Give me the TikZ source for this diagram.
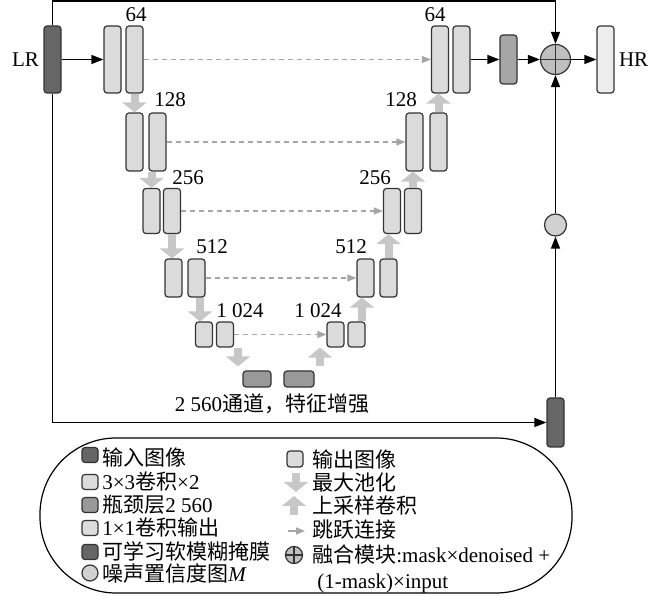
\documentclass[tikz,border=0pt]{standalone}
\usepackage{fontspec}
\setmainfont{Liberation Serif}
\newfontfamily\cjk{Noto Sans CJK SC}
\usetikzlibrary{positioning,arrows.meta}

\begin{document}
\begin{tikzpicture}[x=0.5pt,y=-0.5pt,font=\fontsize{10.5}{12}\selectfont,
  conv/.style={draw=black!80,line width=0.6pt,rounded corners=1.5pt,fill=black!14,inner sep=0pt,minimum width=8.5pt},
  dark/.style={conv,fill=black!60},
  mid/.style={conv,fill=black!40},
  outbox/.style={conv,fill=black!7},
  link/.style={line width=0.6pt,-{Triangle[length=6pt,width=4.5pt]}},
  skip/.style={draw=black!35,line width=0.6pt,dash pattern=on 2.5pt off 2pt,-{Triangle[length=4.5pt,width=3.5pt]}},
  pool/.style={draw=black!22,line width=4pt,-{Triangle[length=5pt,width=12pt]}},
  fuse/.style={circle,draw=black!80,line width=0.6pt,fill=black!25,inner sep=0pt,minimum size=#1,
    path picture={\draw[line width=0.6pt] (path picture bounding box.north) -- (path picture bounding box.south)
      (path picture bounding box.west) -- (path picture bounding box.east);}},
  noise/.style={circle,draw=black!80,line width=0.6pt,fill=black!18,inner sep=0pt,minimum size=#1},
  lgtxt/.style={anchor=west,inner sep=0pt}]
  \useasboundingbox (0,0) rectangle (648,597);

  % input / output
  \node[dark,minimum height=33.5pt] (lr) at (52.5,59.5) {};
  \node[left=0pt of lr,inner sep=2pt] (lrtxt) {LR};
  \node[outbox,minimum height=33.5pt] (hr) at (605.5,59.5) {};
  \node[right=0pt of hr,inner sep=2pt] (hrtxt) {HR};

  % encoder
  \node[conv,minimum height=33.5pt] (e1a) at (112.5,59.5) {};
  \node[conv,minimum height=33.5pt] (e1b) at (134.5,59.5) {};
  \node[conv,minimum height=29pt] (e2a) at (134.5,142) {};
  \node[conv,minimum height=29pt] (e2b) at (157.5,142) {};
  \node[conv,minimum height=22.5pt] (e3a) at (151.5,211) {};
  \node[conv,minimum height=22.5pt] (e3b) at (172,211) {};
  \node[conv,minimum height=19pt] (e4a) at (173.5,278) {};
  \node[conv,minimum height=19pt] (e4b) at (196.5,278) {};
  \node[conv,minimum height=12.5pt] (e5a) at (204,334.5) {};
  \node[conv,minimum height=12.5pt] (e5b) at (225,334.5) {};

  % bottleneck
  \node[mid,minimum width=14pt,minimum height=8pt] (b1) at (257,379) {};
  \node[mid,minimum width=15pt,minimum height=8pt] (b2) at (299,379) {};
  \node (bntxt) at (272,404) {2 560{\cjk 通道，特征增强}};

  % decoder
  \node[conv,minimum height=12.5pt] (d5a) at (335.5,334.5) {};
  \node[conv,minimum height=12.5pt] (d5b) at (356.5,334.5) {};
  \node[conv,minimum height=19pt] (d4a) at (365.5,278) {};
  \node[conv,minimum height=19pt] (d4b) at (388.5,278) {};
  \node[conv,minimum height=22.5pt] (d3a) at (392,211) {};
  \node[conv,minimum height=22.5pt] (d3b) at (413,211) {};
  \node[conv,minimum height=29pt] (d2a) at (414.5,142) {};
  \node[conv,minimum height=29pt] (d2b) at (438.5,142) {};
  \node[conv,minimum height=33.5pt] (d1a) at (440,59.5) {};
  \node[conv,minimum height=33.5pt] (d1b) at (461.5,59.5) {};
  \node[mid,fill=black!35,minimum height=24.5pt] (o1) at (508.5,59.5) {};

  % channel labels
  \node (l64e) at (136,15) {64};
  \node (l128e) at (170,100) {128};
  \node (l256e) at (188,178) {256};
  \node (l512e) at (212,247) {512};
  \node (l1024e) at (240,311) {1 024};
  \node (l1024d) at (318,311) {1 024};
  \node (l512d) at (351,247) {512};
  \node (l256d) at (375,178) {256};
  \node (l128d) at (401,100) {128};
  \node (l64d) at (435,15) {64};

  % fusion branch
  \node[fuse=15pt] (fusion) at (555.5,59.5) {};
  \node[noise=11pt] (noise) at (555.5,225) {};
  \node[dark,minimum height=24.5pt] (mask) at (555.5,422.5) {};
  \coordinate (ctop) at (300,1);

  \draw[link] (lr.east) -- (e1a.west);
  \draw[link] (d1b.east) -- (o1.west);
  \draw[link] (o1.east) -- (fusion.west);
  \draw[link] (fusion.east) -- (hr.west);
  \draw[link] (lr.north) |- (ctop) -| (fusion.north);
  \draw[link] (lr.south) |- (mask.west);
  \draw[link] (mask.north) -- (noise.south);
  \draw[link] (noise.north) -- (fusion.south);

  % skip connections
  \draw[skip] (e1b.east) -- (d1a.west);
  \draw[skip] (e2b.east) -- (d2a.west);
  \draw[skip] (e3b.east) -- (d3a.west);
  \draw[skip] (e4b.east) -- (d4a.west);
  \draw[skip] (e5b.east) -- (d5a.west);

  % pooling / up-sampling
  \draw[pool] (e1b.south) -- (e2a.north);
  \draw[pool] (e2b.south -| e3a) -- (e3a.north);
  \draw[pool] (e3b.south) -- (e3b.south |- e4a.north);
  \draw[pool] ([xshift=1.75pt]e4b.south) -- ([xshift=-2pt]e5a.north);
  \draw[pool] ([xshift=6.5pt]e5b.south) -- ([xshift=-9.5pt,yshift=2pt]b1.north);
  \draw[pool] ([xshift=10.5pt,yshift=2pt]b2.north) -- ([xshift=-7.75pt]d5a.south);
  \draw[pool] ([xshift=2.75pt]d5b.north) -- ([xshift=-1.75pt]d4a.south);
  \draw[pool] (d4b.north) -- (d4b.north |- d3a.south);
  \draw[pool] (d3b.north) -- (d3b.north |- d2a.south);
  \draw[pool] (d2b.north) -- (d2b.north |- d1a.south);

  % legend
  \node[draw,line width=0.6pt,rounded corners=38pt,minimum width=266pt,minimum height=77.5pt] (legend) at (306,515.5) {};
  \node[dark,minimum width=8pt,minimum height=7.5pt] (ki1) at (90,455) {};
  \node[lgtxt] (kt1) at (102,457) {\cjk 输入图像};
  \node[conv,minimum width=8pt,minimum height=7.5pt] (ki2) at (90,482) {};
  \node[lgtxt] (kt2) at (102,482) {3×3{\cjk 卷积}×2};
  \node[mid,minimum width=8pt,minimum height=7.5pt] (ki3) at (90,505) {};
  \node[lgtxt] (kt3) at (102,505) {{\cjk 瓶颈层}2 560};
  \node[conv,minimum width=8pt,minimum height=7.5pt] (ki4) at (90,528) {};
  \node[lgtxt] (kt4) at (102,528) {1×1{\cjk 卷积输出}};
  \node[dark,minimum width=8pt,minimum height=7.5pt] (ki5) at (90,552) {};
  \node[lgtxt] (kt5) at (102,552) {\cjk 可学习软模糊掩膜};
  \node[noise=8pt] (ki6) at (90,573) {};
  \node[lgtxt] (kt6) at (102,574) {{\cjk 噪声置信度图}\textit{M}};

  \node[conv,minimum width=8pt,minimum height=8pt] (kr1) at (295,459) {};
  \node[lgtxt] (kx1) at (312,459) {\cjk 输出图像};
  \coordinate (kr2a) at (296,473);
  \coordinate (kr2b) at (296,492);
  \draw[pool] (kr2a) -- (kr2b);
  \node[lgtxt] (kx2) at (312,483) {\cjk 最大池化};
  \coordinate (kr3a) at (294,515);
  \coordinate (kr3b) at (294,496);
  \draw[pool] (kr3a) -- (kr3b);
  \node[lgtxt] (kx3) at (312,506) {\cjk 上采样卷积};
  \coordinate (kr4a) at (288,531);
  \coordinate (kr4b) at (305,531);
  \draw[draw=black!35,line width=0.8pt,-{Triangle[length=4.5pt,width=3.5pt]}] (kr4a) -- (kr4b);
  \node[lgtxt] (kx4) at (312,530) {\cjk 跳跃连接};
  \node[fuse=8.5pt] (kr5) at (294,555) {};
  \node[lgtxt] (kx5) at (312,555) {{\cjk 融合模块}:mask×denoised +};
  \node[lgtxt] (kx6) at (317,583) {(1-mask)×input};
\end{tikzpicture}
\end{document}
